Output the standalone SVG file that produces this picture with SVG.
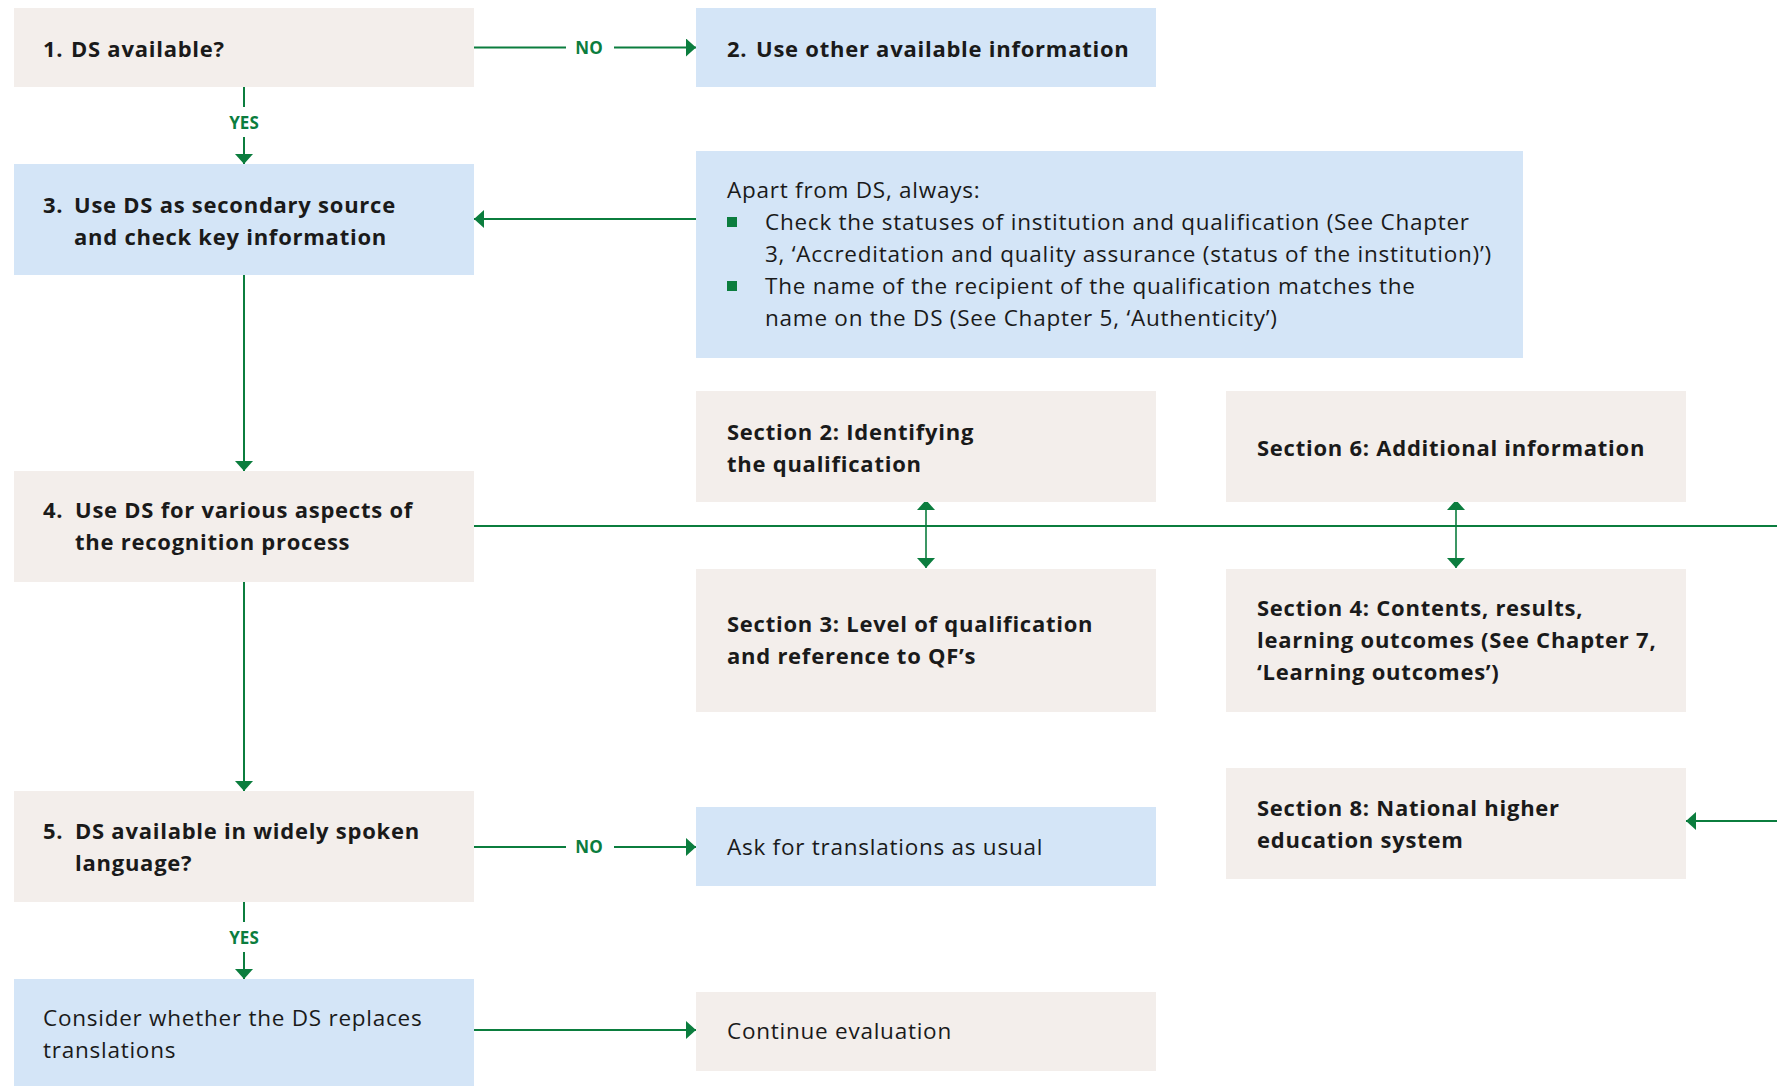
<svg xmlns="http://www.w3.org/2000/svg" width="1777" height="1086" viewBox="0 0 1777 1086">
  <style>
    .beige { fill: #f3eeeb; }
    .blue { fill: #d4e5f7; }
    text { font-family: "Open Sans", "Liberation Sans", sans-serif; fill: #1a1a1a; }
    .b { font-weight: 700; font-size: 22px; letter-spacing: 0.75px; }
    .r { font-weight: 400; font-size: 22.5px; letter-spacing: 0.75px; }
    .lbl { font-weight: 700; font-size: 17px; fill: #0b7d3e; text-anchor: middle; }
    .ln { stroke: #0b7d3e; stroke-width: 2; fill: none; }
    .ln2 { stroke: #0b7d3e; stroke-width: 1.6; fill: none; }
    .bullet { fill: #0b7d3e; }
  </style>
  <defs>
    <marker id="arrow" markerUnits="userSpaceOnUse" markerWidth="10" markerHeight="18" refX="10" refY="9" orient="auto-start-reverse" viewBox="0 0 10 18">
      <path d="M0,0 L10,9 L0,18 Z" fill="#0b7d3e"/>
    </marker>
  </defs>

  <rect width="1777" height="1086" fill="#ffffff"/>

  <!-- connectors -->
  <g id="connectors">
    <path class="ln" d="M474,47.5 H566"/>
    <path class="ln" d="M614,47.5 H696" marker-end="url(#arrow)"/>
    <text class="lbl" x="589" y="54">NO</text>

    <path class="ln" d="M244,87 V107"/>
    <path class="ln" d="M244,137 V164" marker-end="url(#arrow)"/>
    <text class="lbl" x="244" y="129">YES</text>

    <path class="ln" d="M696,219 H474" marker-end="url(#arrow)"/>
    <path class="ln" d="M244,275 V471" marker-end="url(#arrow)"/>

    <path class="ln" d="M474,526 H1777"/>
    <path class="ln2" d="M926,500 V568" marker-start="url(#arrow)" marker-end="url(#arrow)"/>
    <path class="ln2" d="M1456,500 V568" marker-start="url(#arrow)" marker-end="url(#arrow)"/>
    <path class="ln" d="M1777,821 H1686" marker-end="url(#arrow)"/>

    <path class="ln" d="M244,582 V791" marker-end="url(#arrow)"/>

    <path class="ln" d="M474,847 H566"/>
    <path class="ln" d="M614,847 H696" marker-end="url(#arrow)"/>
    <text class="lbl" x="589" y="853">NO</text>

    <path class="ln" d="M244,902 V922"/>
    <path class="ln" d="M244,952 V979" marker-end="url(#arrow)"/>
    <text class="lbl" x="244" y="944">YES</text>

    <path class="ln" d="M474,1030 H696" marker-end="url(#arrow)"/>
  </g>

  <!-- nodes -->
  <g id="n1">
    <rect class="beige" x="14" y="8" width="460" height="79"/>
    <text class="b" y="57"><tspan x="43">1.</tspan><tspan x="71">DS available?</tspan></text>
  </g>
  <g id="n2">
    <rect class="blue" x="696" y="8" width="460" height="79"/>
    <text class="b" y="57"><tspan x="727">2.</tspan><tspan x="756">Use other available information</tspan></text>
  </g>
  <g id="n3">
    <rect class="blue" x="14" y="164" width="460" height="111"/>
    <text class="b"><tspan x="43" y="213">3.</tspan><tspan x="74" y="213">Use DS as secondary source</tspan><tspan x="74" y="245">and check key information</tspan></text>
  </g>
  <g id="always">
    <rect class="blue" x="696" y="151" width="827" height="207"/>
    <text class="r"><tspan x="727" y="198">Apart from DS, always:</tspan><tspan x="765" y="230">Check the statuses of institution and qualification (See Chapter</tspan><tspan x="765" y="262">3, ‘Accreditation and quality assurance (status of the institution)’)</tspan><tspan x="765" y="294">The name of the recipient of the qualification matches the</tspan><tspan x="765" y="326">name on the DS (See Chapter 5, ‘Authenticity’)</tspan></text>
    <rect class="bullet" x="727" y="217" width="10" height="10"/>
    <rect class="bullet" x="727" y="281" width="10" height="10"/>
  </g>
  <g id="sec2">
    <rect class="beige" x="696" y="391" width="460" height="111"/>
    <text class="b"><tspan x="727" y="440">Section 2: Identifying</tspan><tspan x="727" y="472">the qualification</tspan></text>
  </g>
  <g id="sec6">
    <rect class="beige" x="1226" y="391" width="460" height="111"/>
    <text class="b" x="1257" y="456">Section 6: Additional information</text>
  </g>
  <g id="n4">
    <rect class="beige" x="14" y="471" width="460" height="111"/>
    <text class="b"><tspan x="43" y="518">4.</tspan><tspan x="75" y="518">Use DS for various aspects of</tspan><tspan x="75" y="550">the recognition process</tspan></text>
  </g>
  <g id="sec3">
    <rect class="beige" x="696" y="569" width="460" height="143"/>
    <text class="b"><tspan x="727" y="632">Section 3: Level of qualification</tspan><tspan x="727" y="664">and reference to QF’s</tspan></text>
  </g>
  <g id="sec4">
    <rect class="beige" x="1226" y="569" width="460" height="143"/>
    <text class="b"><tspan x="1257" y="616">Section 4: Contents, results,</tspan><tspan x="1257" y="648">learning outcomes (See Chapter 7,</tspan><tspan x="1257" y="680">‘Learning outcomes’)</tspan></text>
  </g>
  <g id="sec8">
    <rect class="beige" x="1226" y="768" width="460" height="111"/>
    <text class="b"><tspan x="1257" y="816">Section 8: National higher</tspan><tspan x="1257" y="848">education system</tspan></text>
  </g>
  <g id="n5">
    <rect class="beige" x="14" y="791" width="460" height="111"/>
    <text class="b"><tspan x="43" y="839">5.</tspan><tspan x="75" y="839">DS available in widely spoken</tspan><tspan x="75" y="871">language?</tspan></text>
  </g>
  <g id="ask">
    <rect class="blue" x="696" y="807" width="460" height="79"/>
    <text class="r" x="727" y="855">Ask for translations as usual</text>
  </g>
  <g id="consider">
    <rect class="blue" x="14" y="979" width="460" height="107"/>
    <text class="r"><tspan x="43" y="1026">Consider whether the DS replaces</tspan><tspan x="43" y="1058">translations</tspan></text>
  </g>
  <g id="continue">
    <rect class="beige" x="696" y="992" width="460" height="79"/>
    <text class="r" x="727" y="1039">Continue evaluation</text>
  </g>
</svg>
